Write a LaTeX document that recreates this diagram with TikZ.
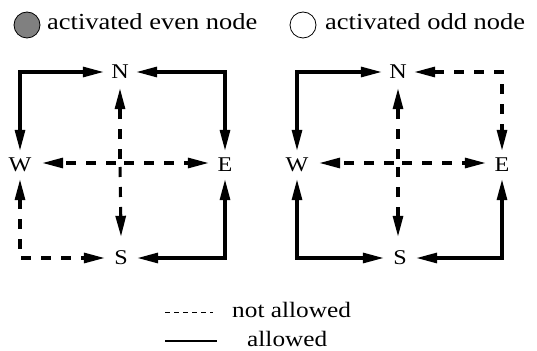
\documentclass[tikz,border=0pt]{standalone}
\usepackage{fontspec}
\setmainfont{Liberation Serif}[FakeStretch=1.15]
\usetikzlibrary{arrows.meta}
\tikzset{
  lbl/.style={inner sep=0pt, minimum width=32pt, minimum height=28pt, font=\fontsize{21}{24}\selectfont},
  wlbl/.style={lbl, minimum width=44pt},
  slbl/.style={lbl, minimum height=42pt},
  nlbl/.style={lbl, minimum height=32pt},
  tipA/.tip={Triangle[length=21pt,width=10pt]},
  arrowok/.style={line width=3.1pt, -tipA},
  arrowokboth/.style={line width=3.1pt, tipA-tipA},
  arrownot/.style={arrowok, dash pattern=on 10pt off 10pt, dash phase=16pt},
  arrownotboth/.style={arrowokboth, dash pattern=on 10pt off 10pt},
  legtext/.style={font=\fontsize{23}{26}\selectfont, anchor=base west, inner sep=0pt},
  keytext/.style={font=\fontsize{22}{25}\selectfont, anchor=base west, inner sep=0pt},
}
\begin{document}
\begin{tikzpicture}[x=1pt, y=-1pt]
\useasboundingbox (0,0) rectangle (537,350);
% legend top
\node[circle, draw=black, fill=gray, line width=0.8pt, minimum size=26pt, inner sep=0pt] (evencirc) at (27,25) {};
\node[legtext] (eventext) at (47,29.5) {activated even node};
\node[circle, draw=black, fill=white, line width=0.8pt, minimum size=26pt, inner sep=0pt] (oddcirc) at (303,25) {};
\node[legtext] (oddtext) at (325,29.5) {activated odd node};

% left diagram
\node[nlbl] (N1) at (120,72) {N};
\node[wlbl] (W1) at (20,165) {W};
\node[lbl] (E1) at (225,165) {E};
\node[slbl] (S1) at (121,258) {S};
\coordinate (C1) at (120,163);
\draw[arrowokboth] (W1.north) |- (N1.west);
\draw[arrowokboth] (N1.east) -| (E1.north);
\draw[arrowokboth] (S1.east) -| (E1.south);
\draw[arrownotboth] (W1.south) |- (S1.west);
\draw[arrownot] (C1) -- (N1.south);
\draw[arrownot] (C1) -- (S1.north);
\draw[arrownot] (C1) -- (C1 -| W1.east);
\draw[arrownot] (C1) -- (C1 -| E1.west);

% right diagram
\node[nlbl] (N2) at (398,72) {N};
\node[wlbl] (W2) at (297,165) {W};
\node[lbl] (E2) at (502,165) {E};
\node[slbl] (S2) at (400,258) {S};
\coordinate (C2) at (398,163);
\draw[arrowokboth] (W2.north) |- (N2.west);
\draw[arrownotboth] (N2.east) -| (E2.north);
\draw[arrowokboth] (S2.east) -| (E2.south);
\draw[arrowokboth] (W2.south) |- (S2.west);
\draw[arrownot] (C2) -- (C2 |- N2.south);
\draw[arrownot] (C2) -- (C2 |- S2.north);
\draw[arrownot] (C2) -- (C2 -| W2.east);
\draw[arrownot] (C2) -- (C2 -| E2.west);

% key
\coordinate (da) at (165,312);
\coordinate (db) at (213,312);
\coordinate (sa) at (165,341);
\coordinate (sb) at (217,341);
\draw[line width=1pt, dash pattern=on 5pt off 4pt] (da) -- (db);
\draw[line width=1.1pt] (sa) -- (sb);
\node[keytext] (notallowed) at (232,317) {not allowed};
\node[keytext] (allowed) at (247,346) {allowed};
\end{tikzpicture}
\end{document}
